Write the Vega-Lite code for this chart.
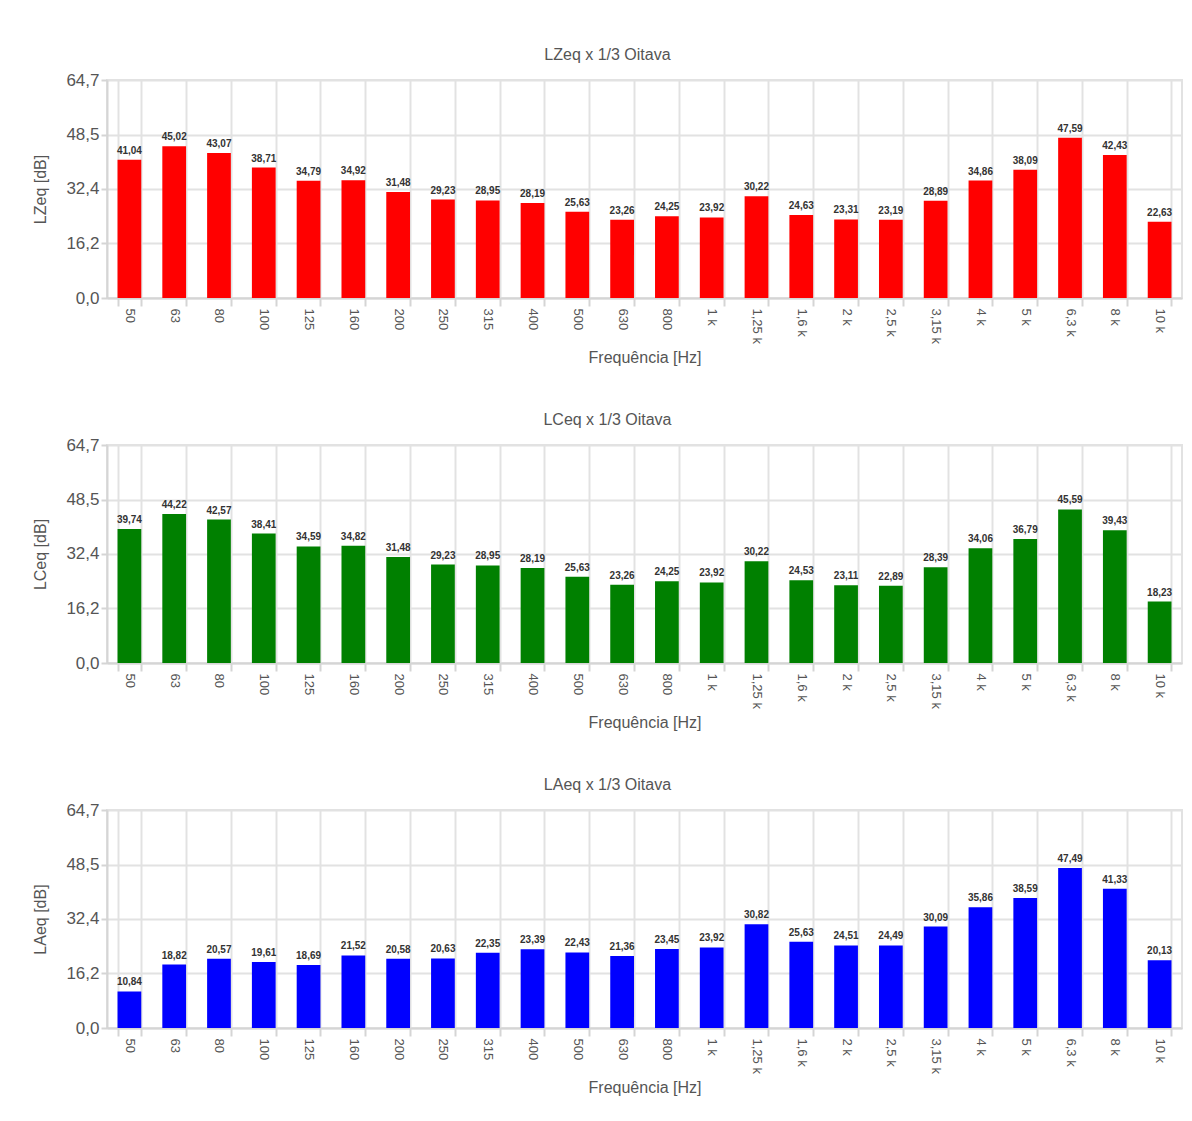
{
  "$schema": "https://vega.github.io/schema/vega-lite/v6.json",
  "padding": {"left": 31, "top": 46, "right": 8, "bottom": 0},
  "background": "white",
  "datasets": {
    "bands": [
      {"freq": "50", "Z": 41.04, "C": 39.74, "A": 10.84},
      {"freq": "63", "Z": 45.02, "C": 44.22, "A": 18.82},
      {"freq": "80", "Z": 43.07, "C": 42.57, "A": 20.57},
      {"freq": "100", "Z": 38.71, "C": 38.41, "A": 19.61},
      {"freq": "125", "Z": 34.79, "C": 34.59, "A": 18.69},
      {"freq": "160", "Z": 34.92, "C": 34.82, "A": 21.52},
      {"freq": "200", "Z": 31.48, "C": 31.48, "A": 20.58},
      {"freq": "250", "Z": 29.23, "C": 29.23, "A": 20.63},
      {"freq": "315", "Z": 28.95, "C": 28.95, "A": 22.35},
      {"freq": "400", "Z": 28.19, "C": 28.19, "A": 23.39},
      {"freq": "500", "Z": 25.63, "C": 25.63, "A": 22.43},
      {"freq": "630", "Z": 23.26, "C": 23.26, "A": 21.36},
      {"freq": "800", "Z": 24.25, "C": 24.25, "A": 23.45},
      {"freq": "1 k", "Z": 23.92, "C": 23.92, "A": 23.92},
      {"freq": "1,25 k", "Z": 30.22, "C": 30.22, "A": 30.82},
      {"freq": "1,6 k", "Z": 24.63, "C": 24.53, "A": 25.63},
      {"freq": "2 k", "Z": 23.31, "C": 23.11, "A": 24.51},
      {"freq": "2,5 k", "Z": 23.19, "C": 22.89, "A": 24.49},
      {"freq": "3,15 k", "Z": 28.89, "C": 28.39, "A": 30.09},
      {"freq": "4 k", "Z": 34.86, "C": 34.06, "A": 35.86},
      {"freq": "5 k", "Z": 38.09, "C": 36.79, "A": 38.59},
      {"freq": "6,3 k", "Z": 47.59, "C": 45.59, "A": 47.49},
      {"freq": "8 k", "Z": 42.43, "C": 39.43, "A": 41.33},
      {"freq": "10 k", "Z": 22.63, "C": 18.23, "A": 20.13}
    ]
  },
  "spacing": 44,
  "vconcat": [
    {
      "data": {"name": "bands"},
      "width": 1075,
      "height": 218,
      "title": {"text": "LZeq x 1/3 Oitava"},
      "encoding": {
        "x": {"field": "freq", "type": "nominal", "sort": null, "title": "Frequência [Hz]", "scale": {"paddingInner": 0.47, "paddingOuter": 0.235}},
        "y": {"field": "Z", "type": "quantitative", "title": "LZeq [dB]", "scale": {"domain": [0, 64.7], "nice": false}, "axis": {"values": [0, 16.2, 32.4, 48.5, 64.7], "format": ".1f"}}
      },
      "layer": [
        {"mark": {"type": "bar", "color": "#ff0000"}},
        {"mark": {"type": "text", "baseline": "alphabetic", "dy": -6, "fontSize": 10, "fontWeight": "bold", "color": "#333"}, "encoding": {"text": {"field": "Z", "type": "quantitative", "format": ".2f"}}}
      ]
    },
    {
      "data": {"name": "bands"},
      "width": 1075,
      "height": 218,
      "title": {"text": "LCeq x 1/3 Oitava"},
      "encoding": {
        "x": {"field": "freq", "type": "nominal", "sort": null, "title": "Frequência [Hz]", "scale": {"paddingInner": 0.47, "paddingOuter": 0.235}},
        "y": {"field": "C", "type": "quantitative", "title": "LCeq [dB]", "scale": {"domain": [0, 64.7], "nice": false}, "axis": {"values": [0, 16.2, 32.4, 48.5, 64.7], "format": ".1f"}}
      },
      "layer": [
        {"mark": {"type": "bar", "color": "#008000"}},
        {"mark": {"type": "text", "baseline": "alphabetic", "dy": -6, "fontSize": 10, "fontWeight": "bold", "color": "#333"}, "encoding": {"text": {"field": "C", "type": "quantitative", "format": ".2f"}}}
      ]
    },
    {
      "data": {"name": "bands"},
      "width": 1075,
      "height": 218,
      "title": {"text": "LAeq x 1/3 Oitava"},
      "encoding": {
        "x": {"field": "freq", "type": "nominal", "sort": null, "title": "Frequência [Hz]", "scale": {"paddingInner": 0.47, "paddingOuter": 0.235}},
        "y": {"field": "A", "type": "quantitative", "title": "LAeq [dB]", "scale": {"domain": [0, 64.7], "nice": false}, "axis": {"values": [0, 16.2, 32.4, 48.5, 64.7], "format": ".1f"}}
      },
      "layer": [
        {"mark": {"type": "bar", "color": "#0000ff"}},
        {"mark": {"type": "text", "baseline": "alphabetic", "dy": -6, "fontSize": 10, "fontWeight": "bold", "color": "#333"}, "encoding": {"text": {"field": "A", "type": "quantitative", "format": ".2f"}}}
      ]
    }
  ],
  "config": {
    "locale": {"number": {"decimal": ",", "thousands": ".", "grouping": [3], "currency": ["", ""]}},
    "font": "Liberation Sans",
    "view": {"stroke": "#e2e2e2", "strokeWidth": 2},
    "title": {"fontSize": 16, "fontWeight": "normal", "color": "#555", "anchor": "middle", "frame": "bounds", "offset": 8},
    "axis": {
      "gridColor": "#e2e2e2",
      "gridWidth": 2,
      "domainColor": "#d5d5d5",
      "domainWidth": 2,
      "tickColor": "#d5d5d5",
      "tickWidth": 2,
      "labelColor": "#555",
      "titleColor": "#555",
      "titleFontWeight": "normal",
      "titleFontSize": 16
    },
    "axisX": {
      "labelAngle": 90,
      "labelFontSize": 13,
      "tickSize": 8,
      "labelPadding": 2,
      "tickBand": "extent",
      "grid": true,
      "titlePadding": 6
    },
    "axisY": {
      "labelFontSize": 17,
      "tickSize": 6,
      "labelPadding": 2,
      "titlePadding": 17
    }
  }
}
